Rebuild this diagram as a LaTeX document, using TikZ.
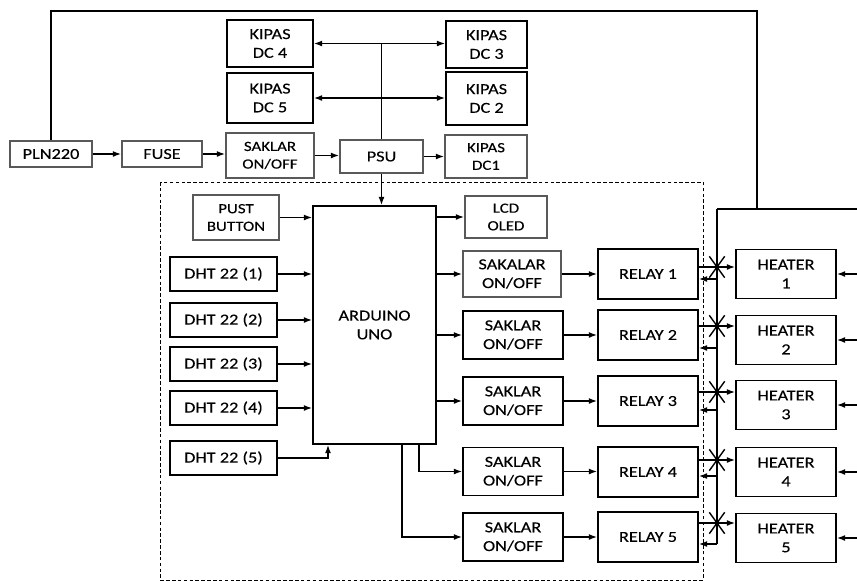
\documentclass[tikz,border=0pt]{standalone}
\usepackage{fontspec}
\setmainfont[FakeStretch=1.2, FakeBold=0.2]{Carlito}
\usetikzlibrary{arrows.meta,calc,shapes.misc}

\begin{document}
\begin{tikzpicture}[x=0.03cm, y=-0.03cm, >={Latex[length=2.5mm,width=1.8mm]},
    font=\fontsize{13}{16}\selectfont,
    box/.style 2 args={draw, line width=1.4pt, inner sep=0pt, align=center,
      minimum width=#1*0.03cm, minimum height=#2*0.03cm},
    gbox/.style 2 args={box={#1}{#2}, draw=black!65},
    small/.style={font=\fontsize{12}{15}\selectfont},
    wire/.style={line width=1.3pt},
    arr/.style={wire, ->},
    xmark/.style={draw, cross out, line width=1.2pt, inner sep=0pt,
      minimum width=0.42cm, minimum height=0.6cm}]
  % one unit = one pixel of the 857 x 581 sheet, y grows downwards
  \useasboundingbox (0,0) rectangle (857,581);
  \draw[line width=0.7pt, dash pattern=on 3pt off 2pt] (160,182) rectangle (703,580);

  % supply chain and fans
  \node[gbox={82}{26}] (pln) at (51,154) {PLN220};
  \node[gbox={80}{26}] (fuse) at (162,154) {FUSE};
  \node[gbox={88}{45}, small] (sak) at (270,155.5) {SAKLAR\\ON/OFF};
  \node[gbox={83}{33}] (psu) at (381.5,156.5) {PSU};
  \node[gbox={82}{43}, small] (dc1) at (486,156.5) {KIPAS\\DC1};
  \node[box={86}{47}] (dc4) at (270,43.5) {KIPAS\\DC 4};
  \node[box={86}{50}] (dc5) at (270,98) {KIPAS\\DC 5};
  \node[box={81}{47}] (dc3) at (486.5,44.5) {KIPAS\\DC 3};
  \node[box={81}{53}] (dc2) at (486.5,98.5) {KIPAS\\DC 2};
  \draw[arr] (pln) -- (fuse);
  \draw[arr] (fuse.east) -- (fuse.east -| sak.west);
  \draw[arr] (sak.east) -- (sak.east -| psu.west);
  \draw[arr] (psu.east) -- (psu.east -| dc1.west);
  \draw[wire] (psu.north) -- (psu.north |- dc4.east);
  \draw[wire, <->] (dc4.east) -- (dc3.west |- dc4.east);
  \draw[wire, <->] (dc5.east) -- (dc2.west |- dc5.east);

  % controller
  \node[gbox={86}{45}, small] (push) at (236,217.5) {PUST\\BUTTON};
  \node[box={123}{238}] (ard) at (374.5,325) {ARDUINO\\UNO};
  \node[gbox={82}{42}, small] (lcd) at (506,217) {LCD\\OLED};
  \node[gbox={98}{46}] (sw1) at (512,274) {SAKALAR\\ON/OFF};
  \foreach \i/\ry in {2/335,3/401,4/471.5,5/537}
    \node[box={100}{48}] (sw\i) at (513,\ry) {SAKLAR\\ON/OFF};
  \foreach \i/\ry in {1/274,2/320,3/364,4/408,5/458}
    \node[box={107}{34}] (dht\i) at (223.5,\ry) {DHT 22 (\i)};
  \foreach \i in {1,...,4} \draw[arr] (dht\i.east) -- (dht\i.east -| ard.west);
  \draw[arr] (dht5.east) -| ($(ard.south)+(-46.5,0)$);
  \draw[arr] (psu.south) -- (psu.south |- ard.north);
  \draw[arr] (push.east) -- (push.east -| ard.west);
  \draw[arr] (ard.east |- lcd.west) -- (lcd.west);
  \foreach \i in {1,2,3} \draw[arr] (ard.east |- sw\i.west) -- (sw\i.west);
  \draw[arr] ($(ard.south)+(44.5,0)$) |- (sw4.west);
  \draw[arr] ($(ard.south)+(27.5,0)$) |- (sw5.west);

  % mains loop to the heaters
  \coordinate (ac) at (757,11);
  \coordinate (bus) at (717,209);
  \coordinate (feed) at (857,209);
  \draw[wire] (pln.north) |- (ac) -- (ac |- bus);
  \draw[wire] (bus) -- (feed);
  \draw[wire] (bus) -- (bus |- 0,544);

  % relays and heaters
  \foreach \i/\ry/\hy/\oy/\by in {1/274/274/267/279, 2/335/340/326/348,
      3/401/405/392/410, 4/472/472/460/476, 5/537/538/523/544} {
    \node[box={100}{50}] (rl\i) at (648,\ry) {RELAY \i};
    \node[box={100}{49}] (ht\i) at (786,\hy) {HEATER\\\i};
    \draw[arr] (sw\i.east) -- (sw\i.east -| rl\i.west);
    \draw[arr] (rl\i.east |- 0,\oy) -- (ht\i.west |- 0,\oy);
    \node[xmark] (x\i) at (bus |- 0,\oy) {};
    \draw[arr] (bus |- 0,\by) -- (rl\i.east |- 0,\by);
    \draw[arr] (feed |- ht\i.east) -- (ht\i.east);
  }
\end{tikzpicture}
\end{document}
